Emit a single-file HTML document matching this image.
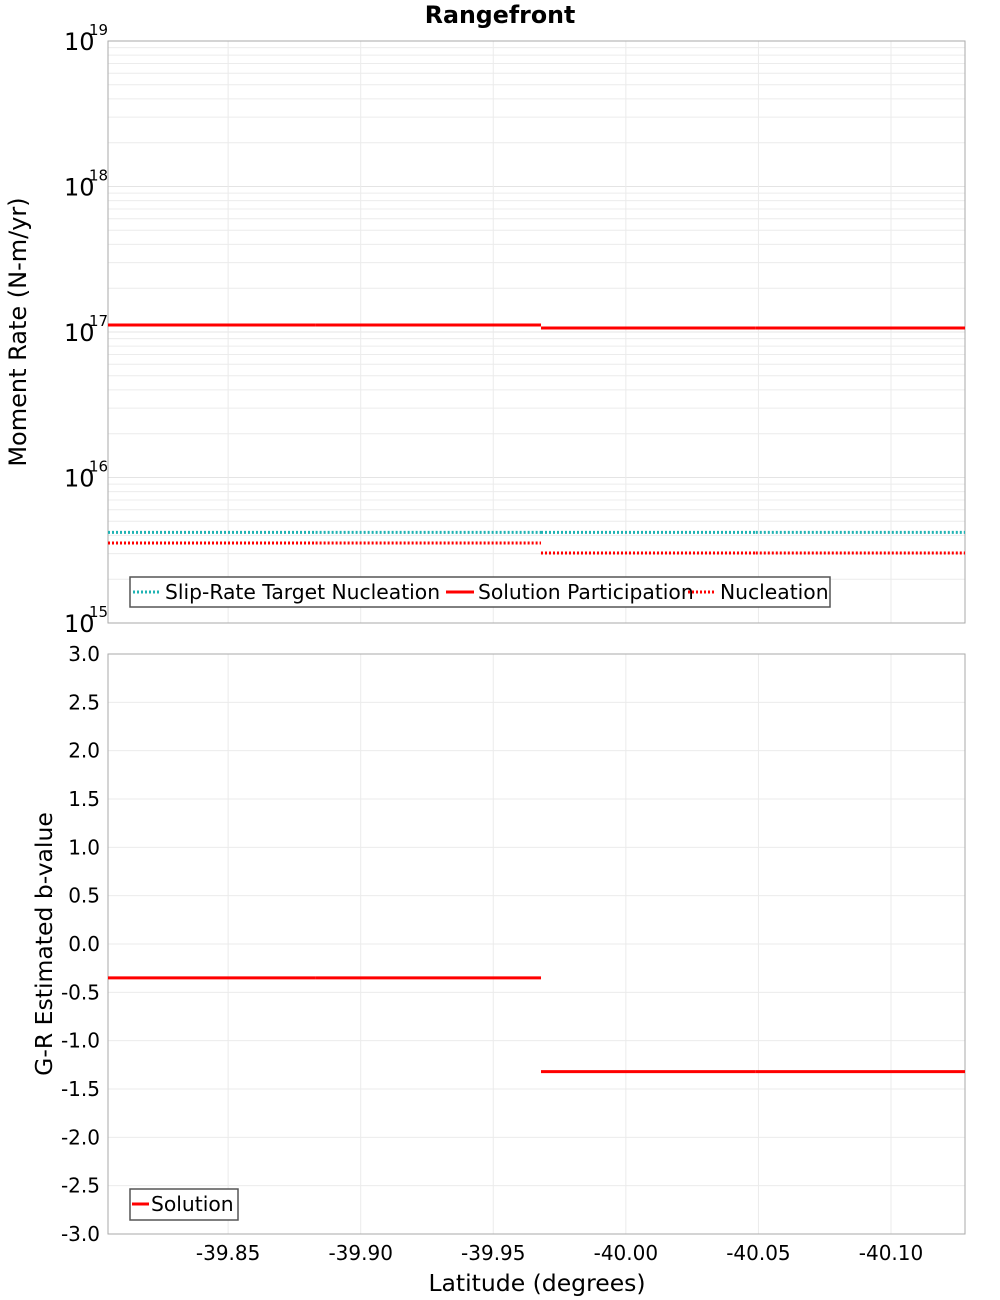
<!DOCTYPE html>
<html><head><meta charset="utf-8"><style>
body{margin:0;background:#fff}
svg{display:block;font-family:"DejaVu Sans","Liberation Sans",sans-serif}
</style></head><body>
<svg id="chart" width="1000" height="1300" viewBox="0 0 1000 1300"></svg>
<script>
// Data
const segEdges = [-39.8047, -39.883, -39.968, -40.049, -40.1279];
const solutionParticipation = [1.117e17, 1.117e17, 1.065e17, 1.065e17];
const targetNucleation = [4.2e15, 4.2e15, 4.2e15, 4.2e15];
const nucleation = [3.55e15, 3.55e15, 3.03e15, 3.03e15];
const bValues = [-0.35, -0.35, -1.32, -1.32];
const xTicks = [-39.85, -39.90, -39.95, -40.00, -40.05, -40.10];
const xTickLabels = ["-39.85", "-39.90", "-39.95", "-40.00", "-40.05", "-40.10"];
const logDecades = [15, 16, 17, 18, 19];
const bTicks = [3.0, 2.5, 2.0, 1.5, 1.0, 0.5, 0.0, -0.5, -1.0, -1.5, -2.0, -2.5, -3.0];

const NS = "http://www.w3.org/2000/svg";
const svg = document.getElementById("chart");
function mk(tag, attrs, parent) {
  const e = document.createElementNS(NS, tag);
  for (const k in attrs) e.setAttribute(k, attrs[k]);
  (parent || svg).appendChild(e);
  return e;
}
const L = 108, R = 965;
const T1 = 41, B1 = 623, T2 = 654, B2 = 1234;
const xMin = -39.8047, xMax = -40.1279;
const xs = v => L + (v - xMin) / (xMax - xMin) * (R - L);
const yLog = v => B1 - (Math.log10(v) - 15) / 4 * (B1 - T1);
const yB = v => B2 - (v + 3) / 6 * (B2 - T2);

// title
let t = mk("text", {x: 500, y: 23, "text-anchor": "middle", "font-size": 23.7, "font-weight": "bold"});
t.textContent = "Rangefront";



// --- top grid
const g1 = mk("g", {});


for (let d = 15; d < 19; d++) for (let m = 2; m <= 9; m++) {
  const y = yLog(m * Math.pow(10, d));
  mk("line", {x1: L, x2: R, y1: y, y2: y, stroke: "#ececec", "stroke-width": 1}, g1);
}
logDecades.forEach(d => { const y = yLog(Math.pow(10, d)); mk("line", {x1: L, x2: R, y1: y, y2: y, stroke: "#e4e4e4"}, g1); });
xTicks.forEach(v => { mk("line", {x1: xs(v), x2: xs(v), y1: T1, y2: B1, stroke: "#ebebeb"}, g1); });
// --- bottom grid
const g2 = mk("g", {});


bTicks.forEach(v => { mk("line", {x1: L, x2: R, y1: yB(v), y2: yB(v), stroke: "#ebebeb"}, g2); });
xTicks.forEach(v => { mk("line", {x1: xs(v), x2: xs(v), y1: T2, y2: B2, stroke: "#ebebeb"}, g2); });

// frames
let f = mk("rect", {x: L, y: T1, width: R - L, height: B1 - T1, fill: "none", stroke: "#aaa"});


f = mk("rect", {x: L, y: T2, width: R - L, height: B2 - T2, fill: "none", stroke: "#aaa"});



// top y tick labels
logDecades.forEach(d => {
  const y = yLog(Math.pow(10, d));
  const tx = mk("text", {x: 64, y: y + 9, "font-size": 24});
  tx.textContent = "10";
  
  
  const sup = mk("text", {x: 89, y: y - 6, "font-size": 15});
  sup.textContent = String(d);
  
  
});
// bottom y tick labels
bTicks.forEach(v => {
  const tx = mk("text", {x: 100, y: yB(v) + 7, "text-anchor": "end", "font-size": 20});
  tx.textContent = v.toFixed(1);
  
  
});
// x tick labels
xTicks.forEach((v, i) => {
  const tx = mk("text", {x: xs(v), y: 1260, "text-anchor": "middle", "font-size": 20});
  tx.textContent = xTickLabels[i];
  
  
});
// axis titles
t = mk("text", {x: 537, y: 1291, "text-anchor": "middle", "font-size": 23.5});
t.textContent = "Latitude (degrees)";


t = mk("text", {x: 0, y: 0, "text-anchor": "middle", "font-size": 24, transform: "translate(26,332) rotate(-90)"});
t.textContent = "Moment Rate (N-m/yr)";


t = mk("text", {x: 0, y: 0, "text-anchor": "middle", "font-size": 23.5, transform: "translate(52,944) rotate(-90)"});
t.textContent = "G-R Estimated b-value";



// series
function steps(vals, yf, color, dash, name) {
  const g = mk("g", {});
  
  
  vals.forEach((v, i) => {
    const attrs = {x1: xs(segEdges[i]), x2: xs(segEdges[i + 1]), y1: yf(v), y2: yf(v), stroke: color, "stroke-width": 3};
    if (dash) attrs["stroke-dasharray"] = "2,2";
    const ln = mk("line", attrs, g);
    
    
  });
}
steps(targetNucleation, yLog, "#1fb3b3", true, "slip-rate-target-nucleation-series");
steps(nucleation, yLog, "#ff0000", true, "nucleation-series");
steps(solutionParticipation, yLog, "#ff0000", false, "solution-participation-series");
steps(bValues, yB, "#ff0000", false, "b-value-solution-series");

// legends
let lg = mk("g", {});


mk("rect", {x: 130, y: 577, width: 700, height: 30, fill: "#fff", stroke: "#555", "stroke-width": 1.5}, lg);
const items = [["Slip-Rate Target Nucleation", "#1fb3b3", true, 133], ["Solution Participation", "#ff0000", false, 446], ["Nucleation", "#ff0000", true, 688]];
items.forEach(it => {
  const a = {x1: it[3], x2: it[3] + 28, y1: 592, y2: 592, stroke: it[1], "stroke-width": 3};
  if (it[2]) a["stroke-dasharray"] = "2,2";
  mk("line", a, lg);
  const tx = mk("text", {x: it[3] + 32, y: 599, "font-size": 20.3}, lg);
  tx.textContent = it[0];
  
  
});
lg = mk("g", {});


mk("rect", {x: 130, y: 1189, width: 108, height: 31, fill: "#fff", stroke: "#555", "stroke-width": 1.5}, lg);
mk("line", {x1: 132, x2: 149, y1: 1204, y2: 1204, stroke: "#ff0000", "stroke-width": 3}, lg);
const stx = mk("text", {x: 151, y: 1211, "font-size": 20.3}, lg);
stx.textContent = "Solution";


</script>
</body></html>
